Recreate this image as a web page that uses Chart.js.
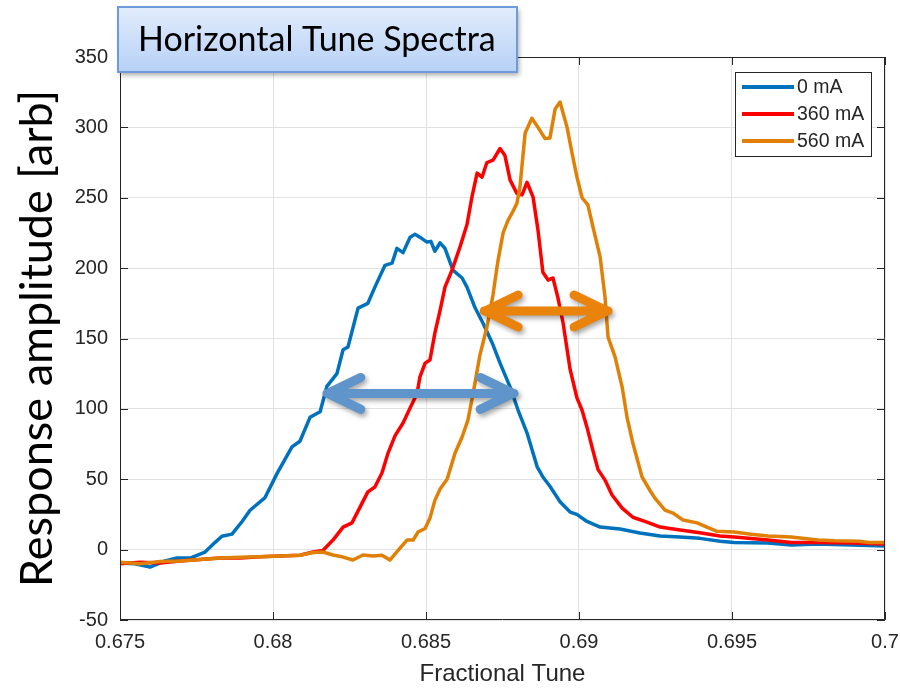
<!DOCTYPE html>
<html>
<head>
<meta charset="utf-8">
<script src="https://cdn.jsdelivr.net/npm/chart.js@4.4.0/dist/chart.umd.min.js"></script>
<style>
    html, body { margin: 0; padding: 0; background: #fff; }
</style>
</head>
<body>
<canvas id="tuneChart" width="900" height="688"></canvas>
<script>
// 0 mA
const tune0 = [0.67500, 0.67549, 0.67598, 0.67647, 0.67686, 0.67729, 0.67778, 0.67810, 0.67833, 0.67866,
    0.67899, 0.67925, 0.67974, 0.68013, 0.68062, 0.68088, 0.68121, 0.68154, 0.68176, 0.68209,
    0.68229, 0.68245, 0.68278, 0.68310, 0.68333, 0.68366, 0.68389, 0.68405, 0.68425, 0.68448,
    0.68464, 0.68480, 0.68503, 0.68516, 0.68529, 0.68546, 0.68562, 0.68588, 0.68618, 0.68634,
    0.68660, 0.68686, 0.68716, 0.68742, 0.68775, 0.68801, 0.68830, 0.68863, 0.68882, 0.68905,
    0.68938, 0.68971, 0.68993, 0.69026, 0.69069, 0.69134, 0.69199, 0.69265, 0.69330, 0.69395,
    0.69461, 0.69507, 0.69618, 0.69693, 0.69781, 0.69892, 0.70000];
const amp0 = [-9.5, -10, -12.4, -8, -6, -6, -1.7, 5, 9.5, 11,
    20, 28, 37, 54, 73, 77, 94, 98, 116, 125,
    142, 144, 171.6, 175, 186.5, 202, 203.5, 214, 211, 222,
    224, 222, 218.5, 219, 212, 218, 214, 198.6, 193, 186.5,
    172, 161, 147, 132.5, 115.5, 99, 83, 59, 51.6, 45,
    34, 26.7, 25, 20, 16, 14.6, 11.8, 9.7, 9, 8,
    6, 5, 4.7, 3.3, 4, 3.3, 2.6];

// 360 mA
const tune360 = [0.67500, 0.67565, 0.67631, 0.67696, 0.67761, 0.67827, 0.67892, 0.67958, 0.68023, 0.68088,
    0.68131, 0.68163, 0.68196, 0.68229, 0.68258, 0.68284, 0.68310, 0.68333, 0.68356, 0.68376,
    0.68399, 0.68425, 0.68448, 0.68471, 0.68480, 0.68497, 0.68513, 0.68529, 0.68546, 0.68562,
    0.68585, 0.68611, 0.68634, 0.68650, 0.68667, 0.68683, 0.68699, 0.68719, 0.68742, 0.68758,
    0.68775, 0.68797, 0.68814, 0.68830, 0.68850, 0.68866, 0.68882, 0.68899, 0.68915, 0.68931,
    0.68948, 0.68971, 0.68993, 0.69010, 0.69026, 0.69046, 0.69062, 0.69085, 0.69108, 0.69141,
    0.69176, 0.69222, 0.69265, 0.69330, 0.69395, 0.69461, 0.69507, 0.69618, 0.69693, 0.69781,
    0.69892, 0.70000];
const amp360 = [-10, -9, -9.5, -8, -7, -6, -6, -5, -4.5, -4,
    -1.7, -0.6, 6.8, 16, 19, 30, 41, 44.5, 54.4, 68.6,
    81, 90, 100.6, 111, 122.6, 132.5, 134.7, 153.8, 170, 186.5,
    198.6, 215, 231, 250.4, 267.5, 264.6, 275, 276.7, 285, 280,
    262.5, 253, 252, 261, 250.4, 227, 197, 191.5, 193, 179,
    161, 128, 108, 99, 87, 70, 57, 49.4, 38.8, 29.5,
    23, 19.6, 16, 14, 12, 9.7, 9, 6.8, 5, 5,
    4.7, 4];

// 560 mA
const tune560 = [0.67500, 0.67565, 0.67631, 0.67696, 0.67761, 0.67827, 0.67892, 0.67958, 0.68023, 0.68088,
    0.68131, 0.68163, 0.68196, 0.68229, 0.68261, 0.68294, 0.68327, 0.68356, 0.68382, 0.68415,
    0.68438, 0.68458, 0.68474, 0.68497, 0.68513, 0.68529, 0.68546, 0.68569, 0.68595, 0.68618,
    0.68637, 0.68654, 0.68676, 0.68699, 0.68719, 0.68735, 0.68752, 0.68768, 0.68781, 0.68797,
    0.68807, 0.68824, 0.68846, 0.68866, 0.68889, 0.68905, 0.68922, 0.68938, 0.68961, 0.68977,
    0.68993, 0.69010, 0.69029, 0.69046, 0.69069, 0.69085, 0.69095, 0.69118, 0.69141, 0.69157,
    0.69176, 0.69206, 0.69232, 0.69248, 0.69281, 0.69307, 0.69340, 0.69386, 0.69418, 0.69451,
    0.69507, 0.69562, 0.69618, 0.69693, 0.69781, 0.69837, 0.69915, 0.69948, 0.70000];
const amp560 = [-9, -10, -8.5, -8, -7, -6, -5.5, -5, -4.5, -4,
    -2, -1.7, -3.8, -5.3, -7.4, -3.8, -4.5, -4, -7.4, 1,
    6.8, 6.8, 12.5, 15, 22.4, 35, 43, 50, 68.6, 80,
    92, 111, 138, 158, 181, 205, 225, 234, 239, 246,
    257.5, 296, 306.5, 300, 292, 292.5, 313, 318, 300, 282,
    265, 250, 245, 229, 208, 179.4, 151, 136.8, 115.5, 94,
    75.7, 51.6, 42, 36.6, 28, 26, 21, 19, 16, 13,
    12.5, 11, 9.7, 9, 6.8, 6.3, 6, 5, 5];

const seriesLabels = ["0 mA", "360 mA", "560 mA"];
const seriesColors = ["#0072bd", "#ff0000", "#e08006"];

const xTicks = [0.675, 0.68, 0.685, 0.69, 0.695, 0.7];
const yTicks = [-50, 0, 50, 100, 150, 200, 250, 300, 350];

// FWHM arrows, in chart units
const blueArrow = { from: 0.68176, to: 0.68788, level: 111 };
const orangeArrow = { from: 0.68690, to: 0.69095, level: 169.5 };

const toPoints = (xs, ys) => xs.map((v, i) => ({ x: v, y: ys[i] }));

const tickFont = { family: "'Liberation Sans', Arial, sans-serif", size: 20 };
const inkColor = "#262626";

// MATLAB style box with inward ticks
const frameTicks = {
    id: "frameTicks",
    afterDatasetsDraw(chart) {
        const { ctx, chartArea: a, scales: { x, y } } = chart;
        ctx.save();
        ctx.strokeStyle = inkColor;
        ctx.lineWidth = 1;
        ctx.beginPath();
        xTicks.forEach(v => {
            const px = Math.round(x.getPixelForValue(v)) + 0.5;
            ctx.moveTo(px, a.bottom); ctx.lineTo(px, a.bottom - 8);
            ctx.moveTo(px, a.top); ctx.lineTo(px, a.top + 8);
        });
        yTicks.forEach(v => {
            const py = Math.round(y.getPixelForValue(v)) + 0.5;
            ctx.moveTo(a.left, py); ctx.lineTo(a.left + 8, py);
            ctx.moveTo(a.right, py); ctx.lineTo(a.right - 8, py);
        });
        ctx.rect(a.left + 0.5, a.top + 0.5, a.right - a.left - 1, a.bottom - a.top - 1);
        ctx.stroke();
        ctx.restore();
    }
};

function drawArrow(ctx, x1, x2, yy, color) {
    ctx.save();
    ctx.strokeStyle = color;
    ctx.lineWidth = 9;
    ctx.lineCap = "round";
    ctx.lineJoin = "round";
    ctx.shadowColor = "rgba(0, 0, 0, 0.35)";
    ctx.shadowBlur = 5;
    ctx.shadowOffsetX = 2;
    ctx.shadowOffsetY = 3;
    ctx.beginPath();
    ctx.moveTo(x1, yy); ctx.lineTo(x2, yy);
    ctx.moveTo(x1 + 34, yy - 16); ctx.lineTo(x1 + 1, yy); ctx.lineTo(x1 + 34, yy + 16);
    ctx.moveTo(x2 - 34, yy - 16); ctx.lineTo(x2 - 1, yy); ctx.lineTo(x2 - 34, yy + 16);
    ctx.stroke();
    ctx.restore();
}

const widthArrows = {
    id: "widthArrows",
    afterDraw(chart) {
        const { ctx, scales: { x, y } } = chart;
        drawArrow(ctx, x.getPixelForValue(blueArrow.from), x.getPixelForValue(blueArrow.to),
            y.getPixelForValue(blueArrow.level), "#5f95cb");
        drawArrow(ctx, x.getPixelForValue(orangeArrow.from), x.getPixelForValue(orangeArrow.to),
            y.getPixelForValue(orangeArrow.level), "#ea830b");
    }
};

const boxLegend = {
    id: "boxLegend",
    afterDraw(chart) {
        const { ctx, chartArea: a } = chart;
        const left = a.right - 150, top = a.top + 15, w = 136, h = 84;
        ctx.save();
        ctx.fillStyle = "#fff";
        ctx.fillRect(left, top, w, h);
        ctx.strokeStyle = inkColor;
        ctx.lineWidth = 1;
        ctx.strokeRect(left + 0.5, top + 0.5, w, h);
        ctx.font = "19.5px 'Liberation Sans', Arial, sans-serif";
        ctx.textBaseline = "middle";
        seriesLabels.forEach((lab, i) => {
            const yy = top + 15 + i * 27;
            ctx.strokeStyle = seriesColors[i];
            ctx.lineWidth = 4;
            ctx.beginPath();
            ctx.moveTo(left + 7, yy); ctx.lineTo(left + 59, yy);
            ctx.stroke();
            ctx.fillStyle = inkColor;
            ctx.fillText(lab, left + 62, yy + 1);
        });
        ctx.restore();
    }
};

const titleBox = {
    id: "titleBox",
    afterDraw(chart) {
        const ctx = chart.ctx;
        const bx = 118, by = 7, bw = 399, bh = 65;
        ctx.save();
        ctx.shadowColor = "rgba(0, 0, 0, 0.35)";
        ctx.shadowBlur = 5;
        ctx.shadowOffsetX = 2;
        ctx.shadowOffsetY = 3;
        const g = ctx.createLinearGradient(0, by, 0, by + bh);
        g.addColorStop(0, "#e2ecfc");
        g.addColorStop(1, "#b6d1f6");
        ctx.fillStyle = g;
        ctx.fillRect(bx, by, bw, bh);
        ctx.shadowColor = "transparent";
        ctx.strokeStyle = "#6f9bd8";
        ctx.lineWidth = 2;
        ctx.strokeRect(bx, by, bw, bh);
        ctx.fillStyle = "#000";
        ctx.font = "34px Lato, 'Open Sans', sans-serif";
        ctx.textBaseline = "middle";
        ctx.fillText("Horizontal Tune Spectra", bx + 20, by + bh / 2 + 1);
        ctx.restore();
    }
};

new Chart(document.getElementById("tuneChart"), {
    type: "line",
    data: {
        datasets: [
            { label: seriesLabels[0], data: toPoints(tune0, amp0), borderColor: seriesColors[0], order: 2 },
            { label: seriesLabels[1], data: toPoints(tune360, amp360), borderColor: seriesColors[1], order: 1 },
            { label: seriesLabels[2], data: toPoints(tune560, amp560), borderColor: seriesColors[2], order: 0 }
        ]
    },
    options: {
        responsive: false,
        animation: false,
        devicePixelRatio: 1,
        layout: { padding: { top: 57, right: 15, left: 0, bottom: 0 } },
        elements: {
            line: { borderWidth: 3.5, tension: 0, borderJoinStyle: "round" },
            point: { radius: 0 }
        },
        plugins: {
            legend: { display: false },
            tooltip: { enabled: false }
        },
        scales: {
            x: {
                type: "linear",
                min: 0.675,
                max: 0.7,
                afterBuildTicks: s => { s.ticks = xTicks.map(v => ({ value: v })); },
                afterFit: s => { s.height = 68; s.paddingRight = 0; s.paddingLeft = 0; },
                grid: { color: "#e2e2e2", drawTicks: false },
                border: { display: false },
                ticks: {
                    font: tickFont,
                    color: inkColor,
                    padding: 10,
                    callback: v => String(Number(v.toFixed(3)))
                },
                title: {
                    display: true,
                    text: "Fractional Tune",
                    font: { family: "'Liberation Sans', Arial, sans-serif", size: 24 },
                    color: inkColor,
                    padding: { top: 0, bottom: -1 }
                }
            },
            y: {
                min: -50,
                max: 350,
                afterBuildTicks: s => { s.ticks = yTicks.map(v => ({ value: v })); },
                afterFit: s => { s.width = 120; s.paddingTop = 0; s.paddingBottom = 0; },
                grid: { color: "#e2e2e2", drawTicks: false },
                border: { display: false },
                ticks: { font: tickFont, color: inkColor, padding: 12 },
                title: {
                    display: true,
                    text: "Response amplitude [arb]",
                    font: { family: "Lato, 'Open Sans', sans-serif", size: 45 },
                    color: "#000",
                    padding: { top: 10, bottom: 0 }
                }
            }
        }
    },
    plugins: [frameTicks, widthArrows, boxLegend, titleBox]
});
</script>
</body>
</html>
